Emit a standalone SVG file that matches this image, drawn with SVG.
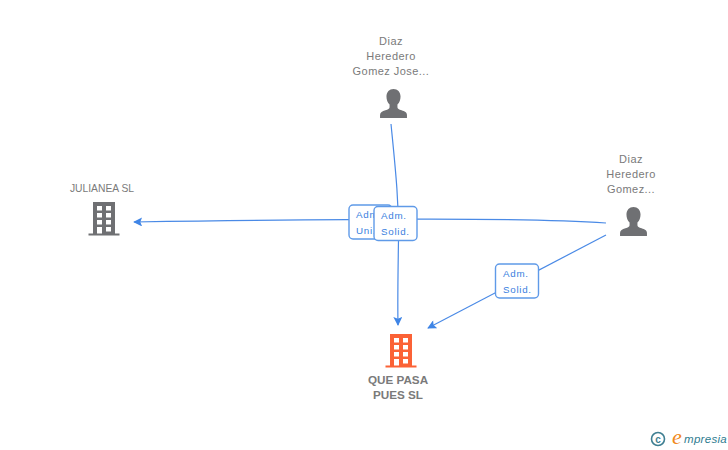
<svg xmlns="http://www.w3.org/2000/svg" width="728" height="450" viewBox="0 0 728 450">
<style>
text{font-family:"Liberation Sans",Arial,sans-serif;text-anchor:middle}
.lb{font-size:11px;fill:#7a7a7a;letter-spacing:.45px}
.e{fill:none;stroke:#4a8ae6;stroke-width:1.2}
.box{fill:#fff;stroke:#5f9ae8;stroke-width:1.4}
.et{font-size:9.8px;fill:#3b7fe0;letter-spacing:.7px;text-anchor:start}
.dark{fill:#6f7073}
.bold{font-size:11.7px;font-weight:700;fill:#7a7a7a}
</style>
<defs>
<marker id="a" viewBox="0 0 10 10" refX="9" refY="5" markerWidth="10" markerHeight="9" markerUnits="userSpaceOnUse" orient="auto"><path d="M0 0L10 5L0 10L2 5Z" fill="#3f85e6"/></marker>
<symbol id="person" viewBox="0 0 28 28"><path d="M14 0c4 0 6.800 3 6.800 7.200c0 3-1 5.800-3 7.800v2.500c0 1.500 1.500 2 4 3c3 1 5.200 2 5.200 4.500v3H1v-3c0-2.500 2.200-3.500 5.200-4.500c2.500-1 4-1.500 4-3V15c-2-2-3-4.800-3-7.800C7.200 3 10 0 14 0Z"/></symbol>
<symbol id="bld" viewBox="0 0 32 34"><path fill-rule="evenodd" d="M5 0H27V31.500H31.500V33.500H.5V31.500H5ZM9 4V8.500H14V4ZM18 4V8.500H23V4ZM9 11V15.500H14V11ZM18 11V15.500H23V11ZM9 18V22.500H14V18ZM18 18V22.500H23V18ZM9 25V31.500H14V25ZM18 25V29.500H23V25Z"/></symbol>
</defs>
<g id="connectors">
<path class="e" marker-end="url(#a)" d="M391 124C395 165 399 200 398.500 240C398 270 397.500 300 398 325"/>
<path class="e" marker-end="url(#a)" d="M606 223C520 217 350 219 134 222"/>
<path class="e" marker-end="url(#a)" d="M606 235L428 328"/>
</g>
<g id="edge-label-uni"><rect class="box" x="349" y="205" width="43" height="34" rx="4"/><text class="et" x="356" y="218">Adm.</text><text class="et" x="356" y="234">Uni.</text></g>
<g id="edge-label-solid-1"><rect class="box" x="374" y="206.500" width="43" height="34" rx="4"/><text class="et" x="381" y="219">Adm.</text><text class="et" x="381" y="234.500">Solid.</text></g>
<g id="edge-label-solid-2"><rect class="box" x="495.500" y="264" width="43" height="34" rx="4"/><text class="et" x="503" y="277">Adm.</text><text class="et" x="503" y="293">Solid.</text></g>
<g id="node-jose"><text class="lb" x="391" y="45">Diaz</text><text class="lb" x="391" y="60">Heredero</text><text class="lb" x="391" y="75">Gomez Jose...</text><use href="#person" class="dark" x="379" y="89" width="29" height="29"/></g>
<g id="node-gomez"><text class="lb" x="631" y="163">Diaz</text><text class="lb" x="631" y="178">Heredero</text><text class="lb" x="631" y="193">Gomez...</text><use href="#person" class="dark" x="619" y="207" width="29" height="29"/></g>
<g id="node-julianea"><text class="lb" x="102" y="192" style="font-size:10.3px;letter-spacing:0">JULIANEA SL</text><use href="#bld" class="dark" x="88" y="202" width="32" height="34"/></g>
<g id="node-quepasa"><use href="#bld" fill="#fb6236" x="385" y="334" width="32" height="34"/><text class="bold" x="398" y="384">QUE PASA</text><text class="bold" x="398" y="399">PUES SL</text></g>
<g id="logo"><circle cx="658" cy="439" r="6.500" fill="none" stroke="#3f7f92" stroke-width="1.600"/><text x="658" y="442.500" style="font-size:10px;font-weight:700;fill:#3f7f92">c</text><text x="677" y="444" style="font-family:'Liberation Serif',serif;font-style:italic;font-size:22px;fill:#f08a1c">e</text><text x="684" y="443" style="text-anchor:start;font-style:italic;font-size:11.500px;letter-spacing:.3px;fill:#2f7c90">mpresia</text></g>
</svg>
